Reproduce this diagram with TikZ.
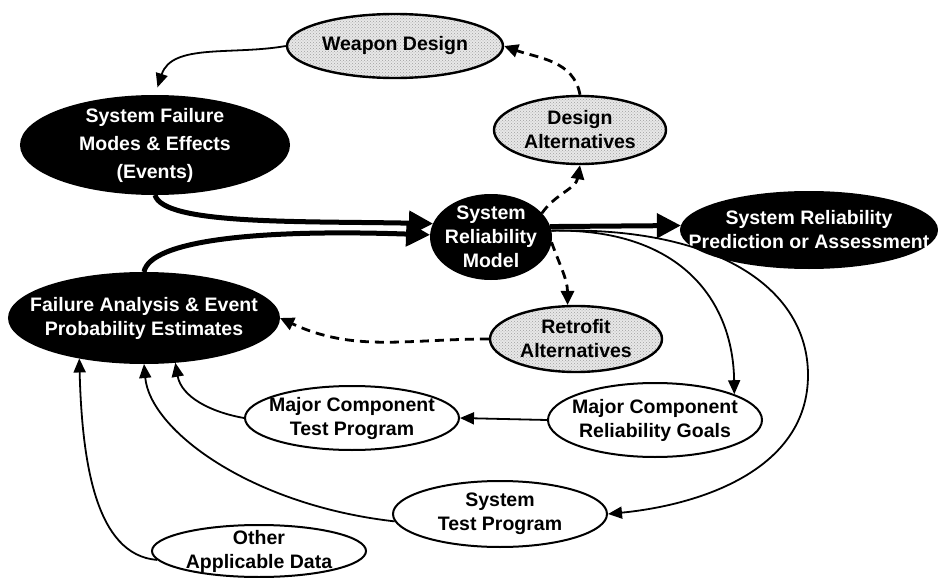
\documentclass[tikz,border=0pt]{standalone}
\usepackage{fontspec}
\setmainfont{Liberation Sans}
\usetikzlibrary{shapes.geometric,arrows.meta,patterns}
\begin{document}
\begin{tikzpicture}[x=1pt,y=1pt,
  base/.style={ellipse, inner sep=0pt, line width=2pt, draw=black},
  dark/.style={base, fill=black},
  grey/.style={base, line width=2.4pt, preaction={fill=gray!18}, pattern=crosshatch dots, pattern color=gray!75},
  light/.style={base, fill=white},
  wtxt/.style={text=white, font=\fontsize{19.5}{24}\selectfont\bfseries, align=center, inner sep=0pt},
  btxt/.style={text=black, font=\fontsize{19.5}{24}\selectfont\bfseries, align=center, inner sep=0pt},
  thinarr/.style={line width=1.8pt, -{Triangle[length=14pt,width=12pt]}},
  thickarr/.style={line width=5pt, -{Triangle[length=24pt,width=24pt]}},
  dsharr/.style={line width=2.8pt, dash pattern=on 9pt off 6pt, -{Triangle[length=14pt,width=13pt]}},
]
\useasboundingbox (0,0) rectangle (938,-578);

% nodes
\node[grey, minimum width=216pt, minimum height=64pt,
  label={[btxt]center:Weapon Design}] (wd) at (395,-46) {};
\node[dark, minimum width=268pt, minimum height=98pt,
  label={[wtxt, font=\fontsize{19.5}{28}\selectfont\bfseries]center:System Failure\\Modes \& Effects\\(Events)}] (sfm) at (155,-145) {};
\node[grey, minimum width=172pt, minimum height=68pt,
  label={[btxt]center:Design\\Alternatives}] (da) at (580,-130) {};
\node[dark, minimum width=120pt, minimum height=84pt,
  label={[wtxt]center:System\\Reliability\\Model}] (srm) at (491,-237) {};
\node[dark, minimum width=256pt, minimum height=76pt,
  label={[wtxt]center:System Reliability\\Prediction or Assessment}] (srp) at (809,-230) {};
\node[dark, minimum width=270pt, minimum height=90pt,
  label={[wtxt]center:Failure Analysis \& Event\\Probability Estimates}] (fa) at (144,-318) {};
\node[grey, minimum width=172pt, minimum height=66pt,
  label={[btxt]center:Retrofit\\Alternatives}] (ra) at (576,-339) {};
\node[light, minimum width=214pt, minimum height=64pt,
  label={[btxt]center:Major Component\\Test Program}] (mctp) at (352,-418) {};
\node[light, minimum width=214pt, minimum height=74pt,
  label={[btxt]center:Major Component\\Reliability Goals}] (mcrg) at (655,-420) {};
\node[light, minimum width=214pt, minimum height=66pt,
  label={[btxt]center:System\\Test Program}] (stp) at (500,-514) {};
\node[light, minimum width=214pt, minimum height=52pt,
  label={[btxt]center:Other\\Applicable Data}] (oad) at (259,-551) {};

% connectors
\draw[thinarr, shorten >=8pt] (wd.west) to[out=190,in=72] (sfm.north);
\draw[dsharr] (da.north) to[out=100,in=-20] (wd.east);
\draw[dsharr] (srm.25) to[out=55,in=-100] (da.south);
\draw[thickarr] (sfm.south) .. controls (163,-225) and (300,-221) .. (srm.167);
\draw[thickarr] (fa.north) .. controls (150,-240) and (260,-229) .. (srm.178);
\draw[thickarr] (srm.10) -- (srp.178);
\draw[dsharr] (srm.-5) to[out=-70,in=90] (ra.104);
\draw[dsharr] (ra.west) to[out=180,in=-25] (fa.east);
\draw[thinarr] (srm.6) .. controls (680,-228) and (733,-300) .. (mcrg.18);
\draw[thinarr] (srm.6) .. controls (720,-226) and (808,-290) .. (808,-375)
   .. controls (808,-470) and (700,-505) .. (stp.east);
\draw[thinarr] (mcrg.west) -- (mctp.east);
\draw[thinarr] (mctp.west) to[out=170,in=-80] (fa.-55);
\draw[thinarr] (stp.184) .. controls (250,-505) and (150,-430) .. (fa.south);
\draw[thinarr] (oad.185) .. controls (95,-555) and (82,-460) .. (fa.212);
\end{tikzpicture}
\end{document}
